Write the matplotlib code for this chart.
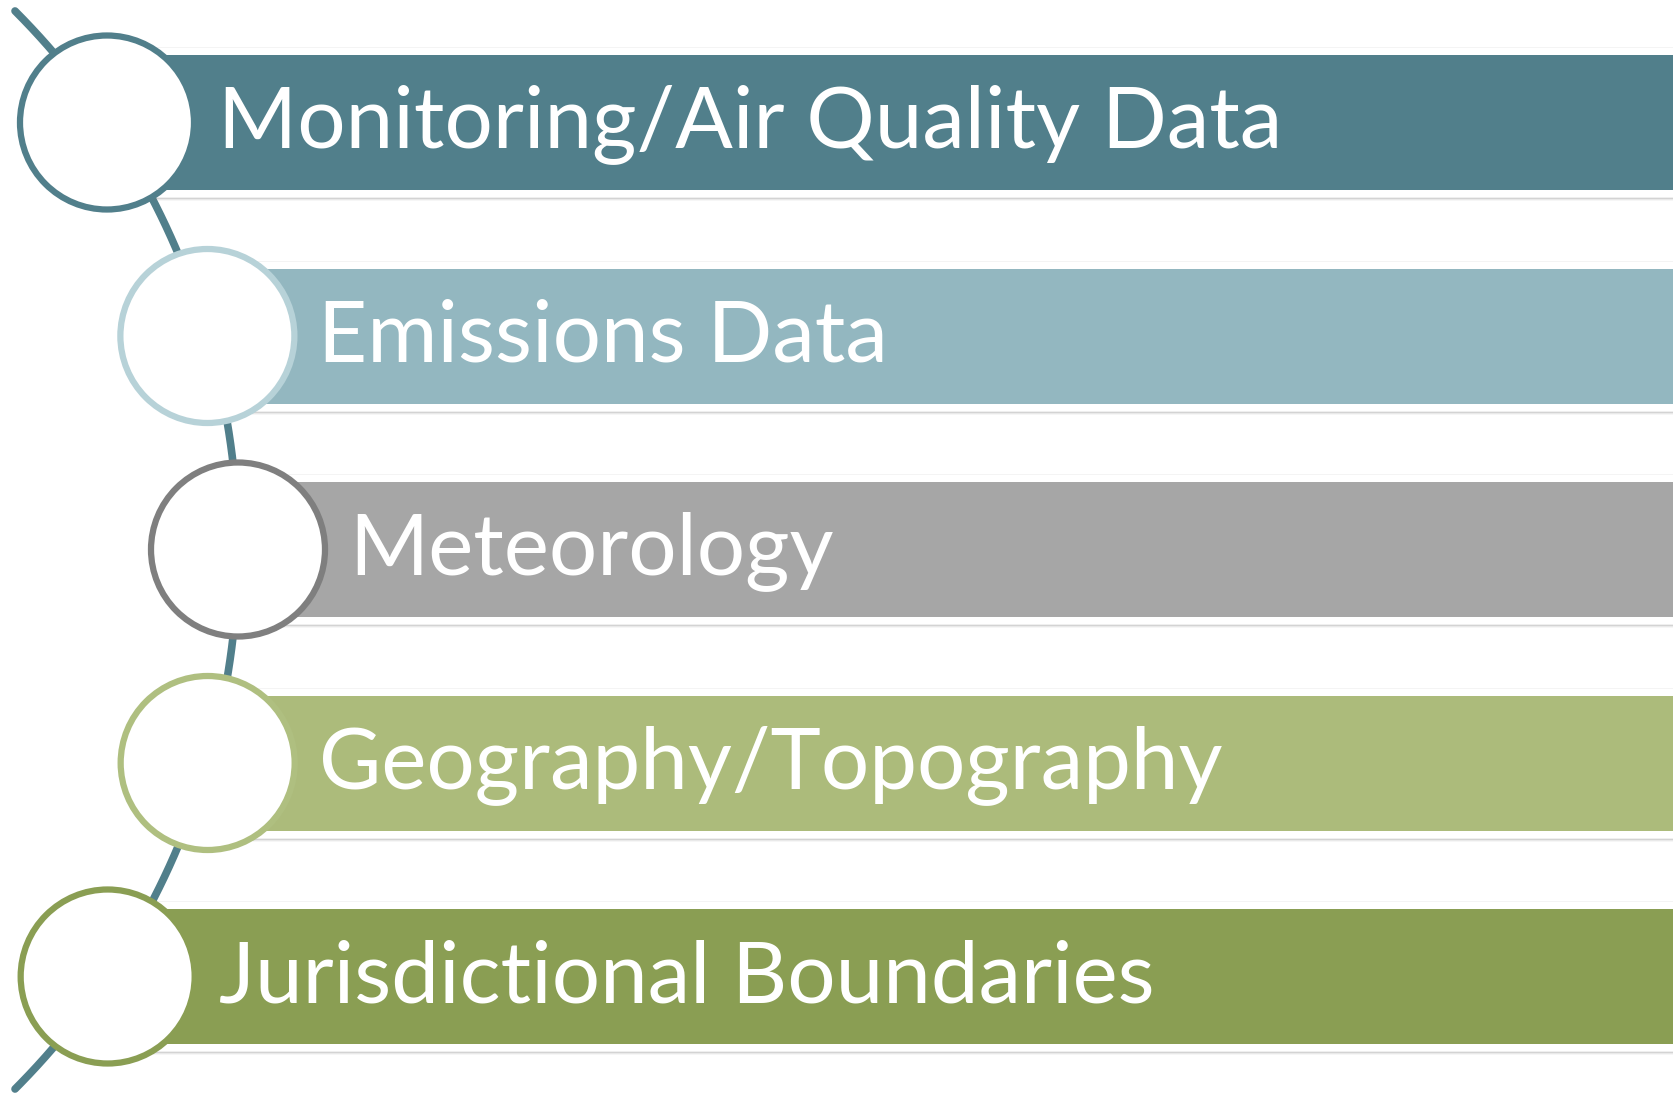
import numpy as np
import matplotlib.pyplot as plt
from matplotlib.patches import Rectangle, Circle

# items of the list, top to bottom
labels = ["Monitoring/Air Quality Data", "Emissions Data", "Meteorology",
          "Geography/Topography", "Jurisdictional Boundaries"]
bar_colors = ["#517F8B", "#93B7C0", "#A6A6A6", "#ACBB7B", "#8A9E53"]
ring_colors = ["#517F8B", "#B7D2D8", "#7F7F7F", "#AFBF80", "#8A9E53"]

W, H = 1674, 1107
fig = plt.figure(figsize=(W / 100, H / 100), dpi=100)
ax = fig.add_axes([0, 0, 1, 1])
ax.set_xlim(0, W)
ax.set_ylim(H, 0)
ax.axis("off")

# big arc the circles sit on
arc_cx, arc_cy, arc_r = -525, 550, 763
a0 = np.arctan2(11 - arc_cy, 15 - arc_cx)
a1 = np.arctan2(1089 - arc_cy, 15 - arc_cx)
ang = np.linspace(a0, a1, 300)
ax.plot(arc_cx + arc_r * np.cos(ang), arc_cy + arc_r * np.sin(ang),
        color="#517F8B", lw=5.5, solid_capstyle="round", zorder=1)

pitch = 213.5
bar_h = 135
first_top = 55
circ_r = 87

for i, (lab, bc, rc) in enumerate(zip(labels, bar_colors, ring_colors)):
    top = first_top + i * pitch
    yc = top + bar_h / 2
    # circle centre on the arc
    xc = arc_cx + np.sqrt(arc_r ** 2 - (yc - arc_cy) ** 2)
    x0 = xc + 55
    # soft shadow + white frame under the coloured band
    for k, al in enumerate([0.45, 0.3, 0.15, 0.06]):
        ax.add_patch(Rectangle((x0 - 10, top + bar_h + 7 + k), W, 1.2,
                               color="#6e6e6e", alpha=al, lw=0, zorder=2))
    ax.add_patch(Rectangle((x0 - 10, top - 8), W, bar_h + 15,
                           facecolor="white", edgecolor="#f3f3f3", lw=0.6, zorder=3))
    ax.add_patch(Rectangle((x0, top), W, bar_h, facecolor=bc, lw=0, zorder=4))
    ax.add_patch(Circle((xc, yc), circ_r, facecolor="white", edgecolor=rc,
                        lw=4.5, zorder=6))
    ax.text(xc + 111, yc + 2, lab, color="white", fontsize=61.5, family="Lato",
            va="center", ha="left", zorder=7)

fig.savefig("out.png", dpi=100)
